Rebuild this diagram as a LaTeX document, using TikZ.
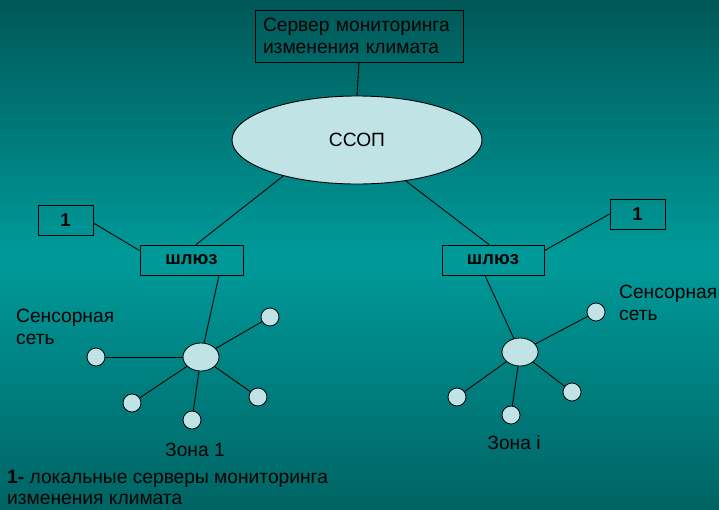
\documentclass[tikz,border=0pt]{standalone}
\usepackage{fontspec}
\setmainfont{Liberation Sans}
\usetikzlibrary{shapes.geometric,calc}
\definecolor{bgtop}{RGB}{0,88,88}
\definecolor{bgmid}{RGB}{0,154,154}
\definecolor{bgbot}{RGB}{0,100,100}
\definecolor{nodefill}{RGB}{192,228,230}
\tikzset{
  txt/.style={font=\fontsize{19.2}{21.5}\selectfont, text=black, inner sep=0pt},
  boxnode/.style={draw=black, line width=0.9pt, rectangle, inner sep=0pt, font=\fontsize{19.2}{21.5}\selectfont},
  gwlabel/.style={font=\fontsize{18.5}{20}\selectfont\bfseries},
  hubnode/.style={draw=black, line width=0.8pt, fill=nodefill, ellipse, minimum width=36pt, minimum height=28pt, inner sep=0pt},
  leaf/.style={draw=black, line width=0.8pt, fill=nodefill, circle, minimum size=18pt, inner sep=0pt},
  link/.style={draw=black, line width=0.9pt}
}
\begin{document}
\begin{tikzpicture}[x=1pt,y=-1pt]
\useasboundingbox (0,0) rectangle (719,509);
% background gradient as strips
\foreach \i in {0,...,49} {
  \pgfmathsetmacro{\p}{100*\i/49}
  \colorlet{stripc}{bgmid!\p!bgtop}
  \fill[stripc] (0,{\i*5.2}) rectangle (719,{\i*5.2+5.6});
}
\foreach \i in {0,...,49} {
  \pgfmathsetmacro{\p}{100*\i/49}
  \colorlet{stripc}{bgbot!\p!bgmid}
  \fill[stripc] (0,{255+\i*5.1}) rectangle (719,{255+\i*5.1+5.5});
}

% top server
\node[boxnode, minimum width=208pt, minimum height=52pt, text width=192pt, align=left] (srv) at (359,36) {Сервер мониторинга\\изменения климата};
% SSOP
\node[draw=black, line width=0.9pt, fill=nodefill, ellipse, minimum width=250pt, minimum height=88pt, inner sep=0pt, font=\fontsize{19.2}{21.5}\selectfont] (ssop) at (357,140) {ССОП};

% gateways
\node[boxnode, gwlabel, minimum width=103pt, minimum height=30pt] (gw1) at (191.5,260) {шлюз};
\node[boxnode, gwlabel, minimum width=102pt, minimum height=30pt] (gw2) at (493,260) {шлюз};
% local servers
\node[boxnode, gwlabel, minimum width=55pt, minimum height=30pt] (ls1) at (65.5,220) {1};
\node[boxnode, gwlabel, minimum width=55pt, minimum height=30pt] (ls2) at (637.5,214) {1};

% hubs
\node[hubnode] (hub1) at (201,357) {};
\node[hubnode] (hub2) at (520,352) {};

% leaves zone 1
\node[leaf] (a1) at (96,357) {};
\node[leaf] (a2) at (270,317) {};
\node[leaf] (a3) at (132,403) {};
\node[leaf] (a4) at (192,420) {};
\node[leaf] (a5) at (258,397) {};
% leaves zone i
\node[leaf] (b1) at (596,312) {};
\node[leaf] (b2) at (457,397) {};
\node[leaf] (b3) at (511,415) {};
\node[leaf] (b4) at (572,392) {};

% connectors
\draw[link] (srv.south) -- (ssop.north);
\draw[link] (ssop.206) -- ($(gw1.north)+(4.5,0)$);
\draw[link] (ssop.320) -- ($(gw2.north)+(-4,0)$);
\draw[link] ($(ls1.east)+(0,3)$) -- ($(gw1.north west)+(0,6)$);
\draw[link] (ls2.west) -- ($(gw2.north east)+(0,6)$);
\draw[link] ($(gw1.south)+(27.5,0)$) -- (hub1);
\draw[link] ($(gw2.south)+(-8,0)$) -- (hub2);
\foreach \n in {a1,a2,a3,a4,a5} \draw[link] (hub1) -- (\n);
\foreach \n in {b1,b2,b3,b4} \draw[link] (hub2) -- (\n);

% labels
\node[txt, anchor=north west, align=left] (lbl1) at (16,309) {Сенсорная\\сеть};
\node[txt, anchor=north west, align=left] (lbl2) at (619,285) {Сенсорная\\сеть};
\node[txt] (z1) at (195,450) {Зона 1};
\node[txt] (zi) at (514,443) {Зона i};
\node[txt, anchor=north west, align=left] (note) at (7,470) {\textbf{1-} локальные серверы мониторинга\\изменения климата};
\end{tikzpicture}
\end{document}
